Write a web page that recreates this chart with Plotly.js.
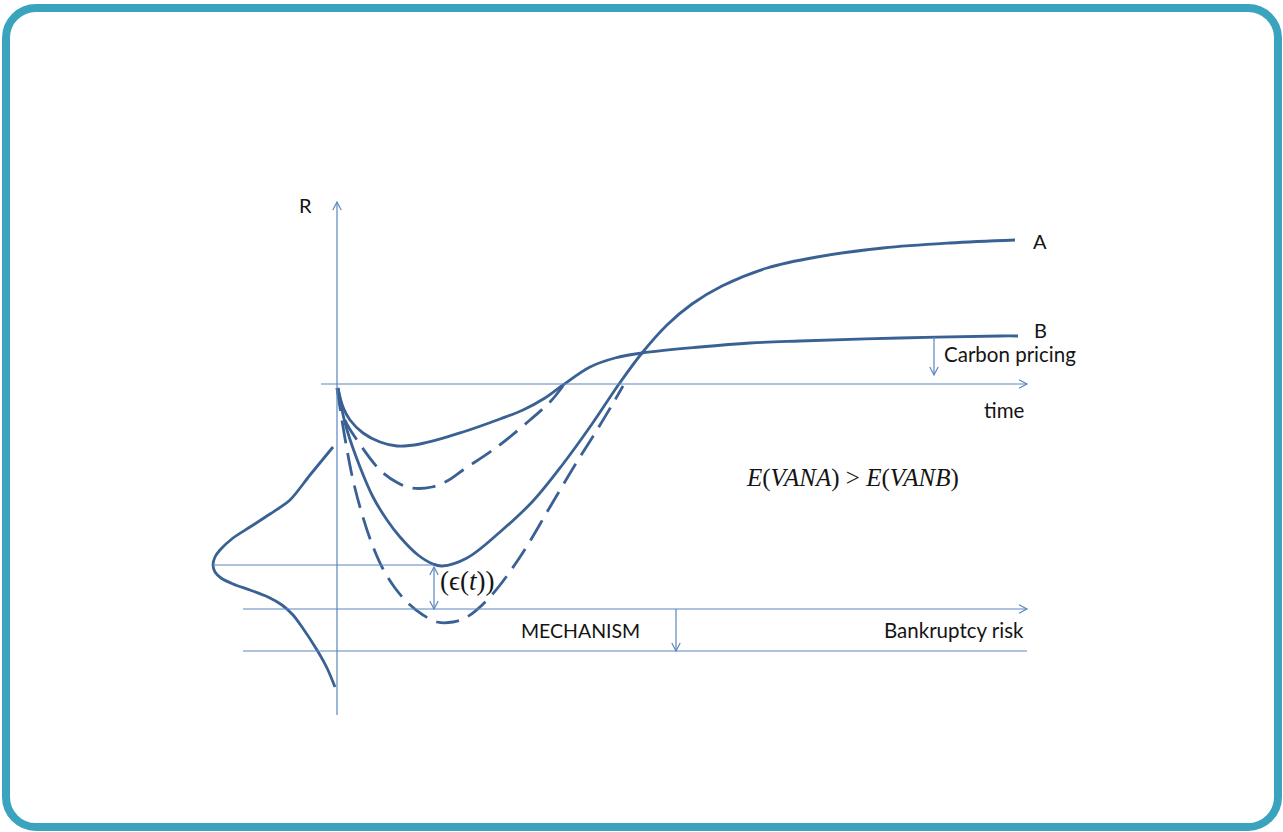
<!DOCTYPE html>
<html>
<head>
<meta charset="utf-8">
<script src="https://cdn.plot.ly/plotly-3.0.1.min.js"></script>
<style>
  html, body { margin: 0; padding: 0; background: #ffffff; }
  #wrap { position: relative; width: 1283px; height: 832px; overflow: hidden; }
  #chart { position: absolute; left: 0; top: 0; width: 1283px; height: 832px; }
  #frame { position: absolute; left: 2px; top: 4px; width: 1280px; height: 827px;
           box-sizing: border-box; border: 8px solid #3aa3be; border-radius: 34px;
           pointer-events: none; }
</style>
</head>
<body>
<div id="wrap">
  <div id="chart"></div>
  <div id="frame"></div>
</div>
<script>
// ---- Data (t = time, R = return) ----
const bSolidT = [1, 6, 13, 26, 43, 60, 83, 126, 163, 186, 208, 226, 253, 278, 305, 363, 413, 463, 563, 663, 681];
const bSolidR = [-4, -23, -36, -49, -58, -62, -60, -48, -35, -26, -14, -1, 17, 26, 31, 37, 41, 43, 46, 48, 48];

const bDashT = [0, 8, 20, 43, 61, 75, 95, 110, 126, 160, 193, 213, 226];
const bDashR = [-4, -36, -56, -86, -99, -104, -103, -97, -86, -63, -36, -18, -2];

const aSolidT = [1, 5, 10, 23, 36, 50, 63, 81, 96, 105, 130, 163, 196, 226, 255, 282, 305, 330, 355, 385, 430, 480, 546, 613, 678];
const aSolidR = [-4, -26, -46, -83, -113, -136, -153, -171, -180, -182, -174, -148, -117, -80, -40, 0, 31, 59, 80, 98, 116, 127, 136, 141, 144];

const aDashT = [0, 4, 9, 16, 25, 35, 46, 58, 72, 86, 100, 116, 130, 153, 183, 213, 238, 260, 275, 286];
const aDashR = [-4, -30, -60, -96, -130, -160, -185, -204, -220, -231, -238, -238, -233, -213, -173, -123, -81, -46, -21, -2];

const bellT = [-4, -27, -47, -67, -87, -104, -117, -122, -124, -122, -116, -104, -87, -69, -55, -44, -35, -20, -10, -2];
const bellR = [-63, -91, -116, -130, -143, -154, -166, -173, -181, -188, -194, -200, -206, -213, -221, -231, -243, -266, -284, -303];

// reference levels
const minLevel = -181;        // expected minimum of the curve
const mechanismLevel = -225;  // mechanism threshold
const bankruptcyLevel = -267; // bankruptcy level

const labels = {
  r: 'R', a: 'A', b: 'B', time: 'time', carbon: 'Carbon pricing',
  mech: 'MECHANISM', bank: 'Bankruptcy risk',
  eps: '(ϵ(<i>t</i>))',
  vana: '<i>E</i>(<i>VANA</i>) > <i>E</i>(<i>VANB</i>)'
};

// ---- Styles ----
const curveColor = '#3a6194';
const axisColor = '#5a86bf';
const textColor = '#141414';
const sans = 'Lato, Calibri, Carlito, sans-serif';
const serif = 'Liberation Serif, DejaVu Serif, serif';
const dashPattern = '23px,10px';

function curve(t, r, dash, smooth) {
  return {
    x: t, y: r, type: 'scatter', mode: 'lines', hoverinfo: 'skip',
    line: { color: curveColor, width: 2.8, shape: 'spline', smoothing: smooth || 1, dash: dash || 'solid' }
  };
}

const traces = [
  curve(bellT, bellR, 'solid', 0.8),
  curve(bSolidT, bSolidR),
  curve(bDashT, bDashR, dashPattern),
  curve(aSolidT, aSolidR),
  curve(aDashT, aDashR, dashPattern)
];

function seg(x0, y0, x1, y1) {
  return { type: 'line', xref: 'x', yref: 'y', x0: x0, y0: y0, x1: x1, y1: y1,
           line: { color: axisColor, width: 1.2 } };
}
function chevron(x, y, dx, dy) {
  const len = 8, half = 4.2;
  const bx = x - dx * len, by = y - dy * len;
  const px = -dy, py = dx;
  const p = 'M' + (bx + px * half) + ',' + (by + py * half) + ' L' + x + ',' + y +
            ' L' + (bx - px * half) + ',' + (by - py * half);
  return { type: 'path', xref: 'x', yref: 'y', path: p, line: { color: axisColor, width: 1.2 } };
}

const shapes = [
  seg(0, -331, 0, 182), chevron(0, 182, 0, 1),                 // R axis
  seg(-16, 0, 690, 0), chevron(690, 0, 1, 0),                  // time axis
  seg(-124, minLevel, 97, minLevel),                           // line to minimum
  seg(-94, mechanismLevel, 690, mechanismLevel), chevron(690, mechanismLevel, 1, 0),
  seg(-94, bankruptcyLevel, 690, bankruptcyLevel),
  seg(97, minLevel - 2, 97, mechanismLevel), chevron(97, minLevel - 2, 0, 1), chevron(97, mechanismLevel, 0, -1),
  seg(339, mechanismLevel, 339, bankruptcyLevel), chevron(339, bankruptcyLevel, 0, -1),
  seg(597, 47, 597, 9), chevron(597, 9, 0, -1)
];

function txt(text, x, y, xanchor, font, size) {
  return { text: text, x: x, y: y, xref: 'x', yref: 'y', showarrow: false,
           xanchor: xanchor, yanchor: 'middle',
           font: { family: font, size: size, color: textColor } };
}

const annotations = [
  txt(labels.r, -32, 179, 'center', sans, 20),
  txt(labels.a, 703, 143, 'center', sans, 20),
  txt(labels.b, 703, 54, 'center', sans, 20),
  txt(labels.carbon, 605, 30, 'left', sans, 20.5),
  txt(labels.time, 667, -26, 'center', sans, 20.5),
  txt(labels.vana, 515, -94, 'center', serif, 25),
  txt(labels.eps, 130, -197, 'center', serif, 27),
  txt(labels.mech, 243, -246, 'center', sans, 19.5),
  txt(labels.bank, 689, -246, 'right', sans, 20.5)
];

const layout = {
  width: 1283, height: 832,
  margin: { l: 0, r: 0, t: 0, b: 0, pad: 0 },
  paper_bgcolor: '#ffffff', plot_bgcolor: '#ffffff',
  showlegend: false,
  xaxis: { range: [-337, 946], visible: false, fixedrange: true },
  yaxis: { range: [-448, 384], visible: false, fixedrange: true },
  shapes: shapes,
  annotations: annotations
};

Plotly.newPlot('chart', traces, layout, { staticPlot: true, displayModeBar: false });
</script>
</body>
</html>
